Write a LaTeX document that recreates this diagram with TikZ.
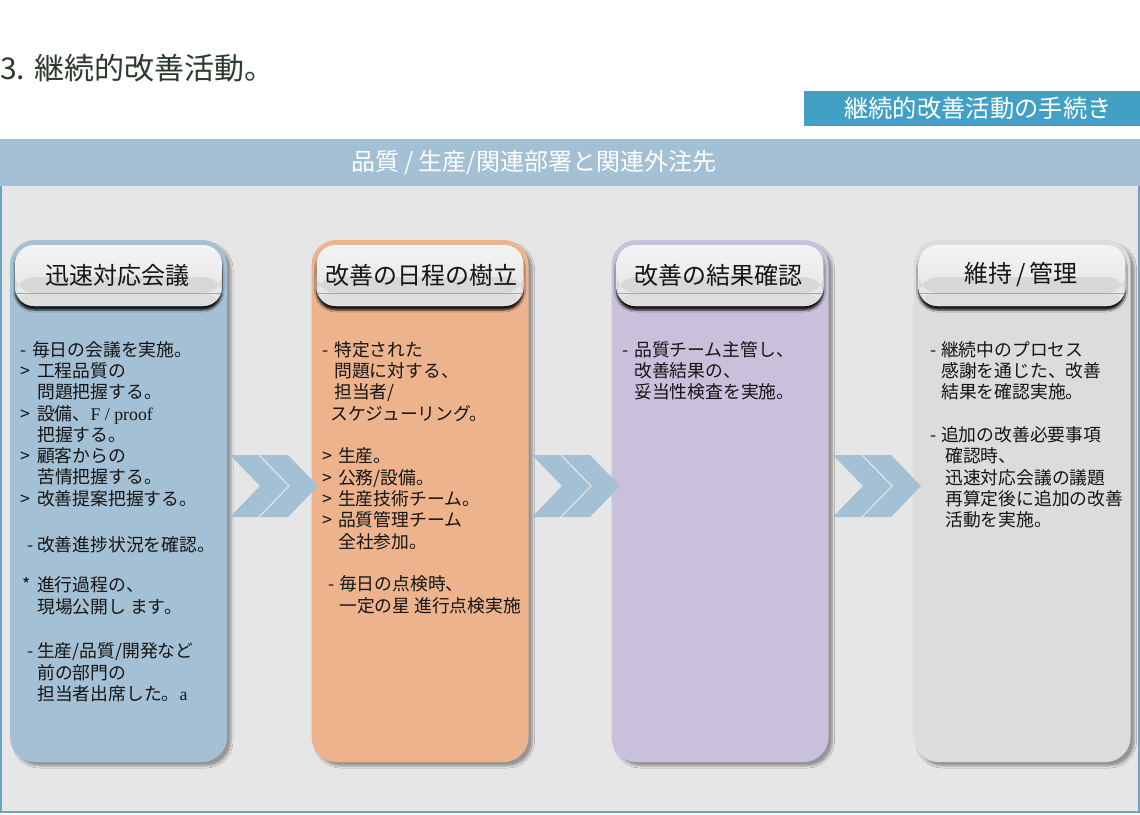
\documentclass[tikz,border=0pt]{standalone}
\usepackage{fontspec}
\setmainfont{Noto Sans CJK JP}
\newfontfamily\lser{Liberation Serif}
\usetikzlibrary{shadows.blur,calc}
\definecolor{boxblue}{HTML}{A3C0D4}
\definecolor{boxorange}{HTML}{EDB38C}
\definecolor{boxpurple}{HTML}{C9C0DC}
\definecolor{boxgray}{HTML}{DCDCDC}
\definecolor{panelgray}{HTML}{E6E6E6}
\definecolor{btnblue}{HTML}{42A0C4}
\definecolor{edgeblue}{HTML}{6CA2C2}
\definecolor{titlegreen}{HTML}{2B3A2D}
\definecolor{txtdark}{HTML}{151515}
\definecolor{pilltop}{HTML}{F4F4F4}
\definecolor{pillmid}{HTML}{E2E2E2}
\definecolor{pillband}{HTML}{D8D8D8}
\definecolor{pilllow}{HTML}{DEDEDE}
\definecolor{pillline}{HTML}{A8A8A8}
\begin{document}
\begin{tikzpicture}[x=1pt,y=-1pt,
  colbox/.style={rounded corners=25pt, minimum width=217pt, minimum height=522pt, inner sep=0pt,
    blur shadow={shadow xshift=4pt, shadow yshift=-4pt, shadow opacity=35, shadow blur radius=2pt, shadow blur steps=5}},
  pill/.style={rounded corners=19pt, minimum width=207pt, minimum height=61pt, inner sep=0pt,
    top color=pilltop, bottom color=pillmid,
    blur shadow={shadow xshift=0pt, shadow yshift=-4pt, shadow opacity=90, shadow blur radius=2pt, shadow blur steps=5},
    path picture={
      \fill[pillband] ([yshift=-32pt]path picture bounding box.north west) rectangle ([yshift=13pt]path picture bounding box.south east);
      \fill[pilllow] ([yshift=13pt]path picture bounding box.south west) rectangle (path picture bounding box.south east);
      \draw[pillline, line width=0.8pt] ([yshift=13pt]path picture bounding box.south west) -- ([yshift=13pt]path picture bounding box.south east);
    }},
  pilltitle/.style={font=\fontsize{24pt}{24pt}\selectfont, text=txtdark, inner sep=0pt},
  body/.style={font=\fontsize{17.8pt}{21.3pt}\selectfont, text=txtdark, align=left, anchor=north west, inner sep=0pt},
  chev/.style={fill=boxblue},
]
\useasboundingbox (0,0) rectangle (1140,814);
\fill[white] (0,0) rectangle (1140,814);

% title
\node[anchor=west, inner sep=0pt, text=titlegreen, font=\fontsize{30pt}{30pt}\selectfont] (title) at (0,68) {3. 継続的改善活動。};

% button
\node[fill=btnblue, minimum width=336pt, minimum height=35pt, inner sep=0pt] (btn) at (972,108.5) {};
\node[text=white, inner sep=0pt, font=\fontsize{24.3pt}{24pt}\selectfont] (btntext) at (978,108) {継続的改善活動の手続き};

% panel
\fill[panelgray] (0,186) rectangle (1140,812);
\draw[edgeblue, line width=2pt] (1,186) -- (1,812) -- (1139,812) -- (1139,186);

% header band
\node[fill=boxblue, minimum width=1140pt, minimum height=47pt, inner sep=0pt] (band) at (570,162.5) {};
\node[text=white, inner sep=0pt, font=\fontsize{24pt}{24pt}\selectfont] (bandtext) at (534,163) {品質\hspace{5pt}/\hspace{5pt}生産/関連部署と関連外注先};

% columns
\node[colbox, fill=boxblue]   (box1) at (118.5,501) {};
\node[colbox, fill=boxorange] (box2) at (420,501) {};
\node[colbox, fill=boxpurple] (box3) at (720,501) {};
\node[colbox, fill=boxgray]   (box4) at (1022,501) {};

\node[pill] (pill1) at (118.5,275.5) {};
\node[pill] (pill2) at (420,275.5) {};
\node[pill] (pill3) at (720,275.5) {};
\node[pill] (pill4) at (1022,275.5) {};

\node[pilltitle] (head1) at (117,275) {迅速対応会議};
\node[pilltitle] (head2) at (421,275) {改善の日程の樹立};
\node[pilltitle] (head3) at (718,275) {改善の結果確認};
\node[pilltitle] (head4) at (1021,275) {維持\,/\,管理};

% chevrons
\foreach \cx in {230,260,532,562,833,863}{
  \fill[chev] (\cx,455) -- ++(28,0) -- ++(30,31) -- ++(-30,31) -- ++(-28,0) -- ++(30,-31) -- cycle;
}

% body texts
\node[body] (text1) at (20,341) {\makebox[12pt][l]{-}毎日の会議を実施。\\
\makebox[17pt][l]{>}工程品質の\\
\hspace*{17pt}問題把握する。\\
\makebox[17pt][l]{>}設備、{\lser F / proof}\\
\hspace*{17pt}把握する。\\
\makebox[17pt][l]{>}顧客からの\\
\hspace*{17pt}苦情把握する。\\
\makebox[17pt][l]{>}改善提案把握する。\\[24.5pt]
\hspace*{7pt}\makebox[10pt][l]{-}改善進捗状況を確認。\\[19.5pt]
\hspace*{2pt}\makebox[15pt][l]{*}進行過程の、\\
\hspace*{17pt}現場公開し ます。\\[23.5pt]
\hspace*{7pt}\makebox[10pt][l]{-}生産/品質/開発など\\
\hspace*{17pt}前の部門の\\
\hspace*{17pt}担当者出席した。{\lser a}};

\node[body] (text2) at (322,341) {\makebox[12pt][l]{-}特定された\\
\hspace*{12pt}問題に対する、\\
\hspace*{12pt}担当者/\\
\hspace*{8pt}スケジューリング。\\[21.5pt]
\makebox[16pt][l]{>}生産。\\
\makebox[16pt][l]{>}公務/設備。\\
\makebox[16pt][l]{>}生産技術チーム。\\
\makebox[16pt][l]{>}品質管理チーム\\
\hspace*{16pt}全社参加。\\[21.5pt]
\hspace*{6pt}\makebox[11pt][l]{-}毎日の点検時、\\
\hspace*{17pt}一定の星 進行点検実施};

\node[body] (text3) at (622,341) {\makebox[12pt][l]{-}品質チーム主管し、\\
\hspace*{12pt}改善結果の、\\
\hspace*{12pt}妥当性検査を実施。};

\node[body] (text4) at (930,341) {\makebox[11pt][l]{-}継続中のプロセス\\
\hspace*{11pt}感謝を通じた、改善\\
\hspace*{11pt}結果を確認実施。\\[21.5pt]
\makebox[11pt][l]{-}追加の改善必要事項\\
\hspace*{15pt}確認時、\\
\hspace*{15pt}迅速対応会議の議題\\
\hspace*{15pt}再算定後に追加の改善\\
\hspace*{15pt}活動を実施。};
\end{tikzpicture}
\end{document}
